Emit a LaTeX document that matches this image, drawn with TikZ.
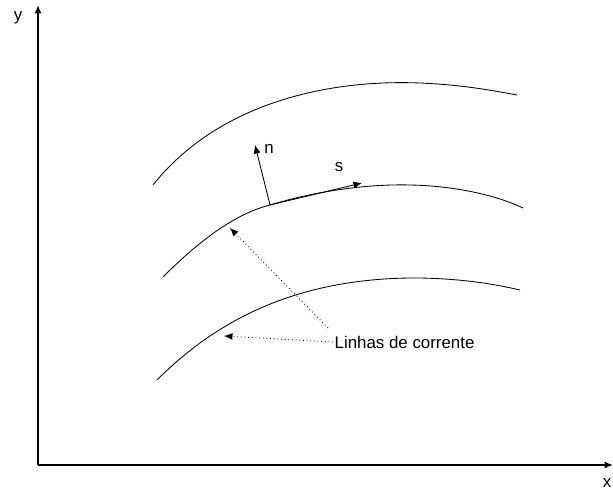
\documentclass[tikz,border=0pt]{standalone}
\usepackage{fontspec}
\setmainfont{Liberation Sans}
\usetikzlibrary{arrows.meta,positioning}

\begin{document}
\begin{tikzpicture}[x=0.025cm,y=0.025cm,>={Latex[length=6pt,width=5pt]},font=\fontsize{12}{14}\selectfont]
\tikzstyle{axis}=[->,line width=1.1pt]
\tikzstyle{linha}=[line width=0.6pt]
\tikzstyle{seta}=[->,line width=0.6pt]
\tikzstyle{pont}=[->,dotted,line width=0.6pt]
\useasboundingbox (0,0) rectangle (613,492);
% eixos
\coordinate (O) at (38,27);
\coordinate (Ymax) at (38,487);
\coordinate (Xmax) at (613,27);
\draw[axis] (O) -- (Ymax);
\draw[axis] (O) -- (Xmax);
\node (ylab) at (18,474) {y};
\node[anchor=east,inner sep=1pt] (xlab) at (613,9) {x};
% linhas de corrente
\draw[linha] (153,307) .. controls (215,385) and (320,413) .. (420,409) .. controls (465,407) and (495,401) .. (517,397);
\coordinate (P) at (270,287);
\draw[linha] (163,215) .. controls (200,252) and (235,278) .. (P) .. controls (320,302) and (370,308) .. (410,307) .. controls (460,306) and (500,295) .. (523,284);
\draw[linha] (157,112) .. controls (215,170) and (295,215) .. (420,214) .. controls (468,213) and (498,207) .. (520,202);
% vetores n e s
\coordinate (N) at (255,347);
\coordinate (S) at (362,309);
\draw[seta] (P) -- (N);
\draw[seta] (P) -- (S);
\node (nlab) at (269,343) {n};
\node (slab) at (339,325) {s};
% legenda
\node[anchor=west,inner sep=1pt] (leg) at (333,150) {Linhas de corrente};
\coordinate (C1) at (230,264);
\coordinate (C2) at (224,156);
\draw[pont] (328,164) -- (C1);
\draw[pont] (leg.west) -- (C2);
\end{tikzpicture}
\end{document}
